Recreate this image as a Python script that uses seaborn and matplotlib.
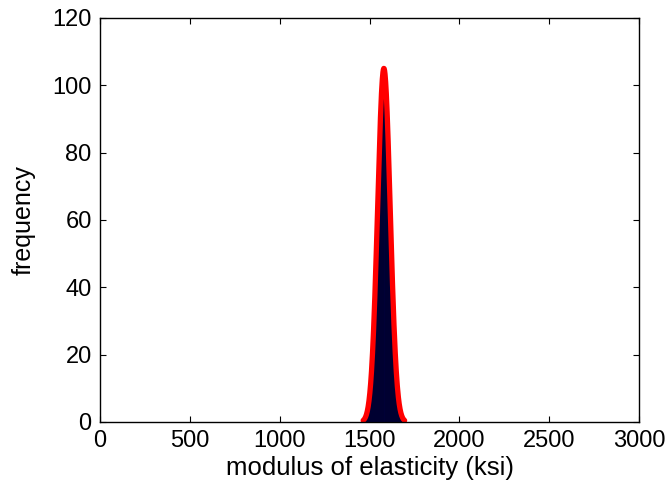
import numpy as np
import pandas as pd
import matplotlib
matplotlib.use("Agg")
import matplotlib.pyplot as plt
import seaborn as sns

# Histogram of modulus of elasticity samples (ksi): bin range and counts
bin_start = 1475.0
bin_end = 1692.0
counts = [1, 2, 4, 5, 8, 11, 15, 20, 27, 34, 42, 50, 60, 70, 86, 84, 92, 98, 105, 101,
          100, 96, 90, 94, 76, 66, 57, 48, 39, 31, 24, 19, 14, 10, 7, 5, 3, 2, 1, 1]

x_ticks = [0, 500, 1000, 1500, 2000, 2500, 3000]
y_ticks = [0, 20, 40, 60, 80, 100, 120]

edges = np.linspace(bin_start, bin_end, len(counts) + 1)
centers = 0.5 * (edges[:-1] + edges[1:])
width = edges[1] - edges[0]
hist_df = pd.DataFrame({"modulus": centers, "count": counts})

# Normal fit of the binned data, scaled to frequency per bin
c = np.asarray(counts, dtype=float)
n_total = c.sum()
mu = (c * centers).sum() / n_total
sigma = np.sqrt((c * (centers - mu) ** 2).sum() / n_total)
xs = np.linspace(mu - 3.3 * sigma, mu + 3.3 * sigma, 200)
fit = n_total * width * np.exp(-0.5 * ((xs - mu) / sigma) ** 2) / (sigma * np.sqrt(2 * np.pi))
fit_df = pd.DataFrame({"modulus": xs, "frequency": fit})

sns.set_theme(style="white")
plt.rcParams["font.family"] = ["Liberation Sans", "DejaVu Sans"]
plt.rcParams["text.color"] = "black"
plt.rcParams["axes.labelcolor"] = "black"

fig = plt.figure(figsize=(6.71, 4.95), dpi=100)
ax = fig.add_axes([100 / 671, 73 / 495, 539 / 671, 404 / 495])

sns.histplot(data=hist_df, x="modulus", weights="count",
             binwidth=width, binrange=(bin_start, bin_end), ax=ax,
             stat="count", color="#000018", alpha=1.0,
             edgecolor="#000070", linewidth=0.15)
sns.lineplot(data=fit_df, x="modulus", y="frequency", ax=ax,
             color="#ff0000", linewidth=3.8)

ax.set_xlim(0, 3000)
ax.set_ylim(0, 120)
ax.set_xticks(x_ticks)
ax.set_yticks(y_ticks)
ax.set_xticklabels([str(t) for t in x_ticks])
ax.set_yticklabels([str(t) for t in y_ticks])
ax.set_xlabel("modulus of elasticity (ksi)", fontsize=18.5, labelpad=3)
ax.set_ylabel("frequency", fontsize=18, labelpad=12)
ax.tick_params(axis="both", which="major", direction="in", length=4, width=0.8,
               labelsize=17, colors="black", top=True, right=True,
               bottom=True, left=True, pad=6)
for spine in ax.spines.values():
    spine.set_visible(True)
    spine.set_color("black")
    spine.set_linewidth(1.0)
ax.grid(False)

fig.savefig("out.png", dpi=100, facecolor="white")
